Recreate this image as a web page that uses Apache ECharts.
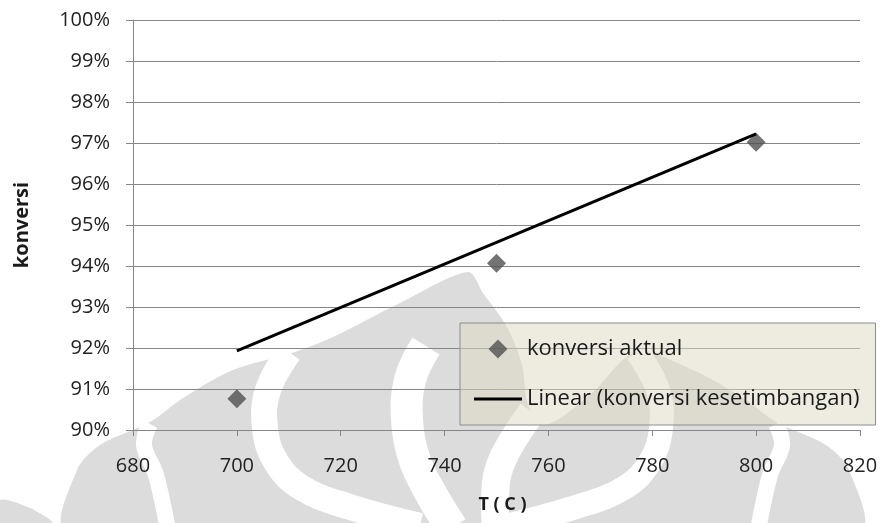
<!DOCTYPE html>
<html>
<head>
<meta charset="utf-8">
<script src="https://cdn.jsdelivr.net/npm/echarts@6/dist/echarts.min.js"></script>
<style>
    html, body { margin: 0; padding: 0; background: #fff; }
    #chart { width: 883px; height: 523px; }
</style>
</head>
<body>
<div id="chart"></div>
<script>
// data
const suhu = [700, 750, 800];
const konversiAktual = [90.76, 94.07, 97.02];
const trenSuhu = [700, 800];
const trenKonversi = [91.93, 97.22];

const FONT = "Open Sans";
const axisGray = "#868686";
const wmGray = "#dcdcdc";

// watermark (faint logo behind the plot), traced by eye
const CX = 463;
const mirror = pts => pts.map(([x, y]) => [2 * CX - x, y]);
const leftOutline = [[400, 303], [333, 337], [292, 353], [233, 370], [183, 398], [150, 422], [100, 445], [77, 470], [67, 530]];
const rightOutline = [[483, 293], [507, 327], [522, 365], [528, 405], [545, 425], [590, 395], [636, 352], [693, 370], [743, 398], [776, 422], [826, 445], [849, 470], [859, 530]];
const band1 = [[150, 424], [144, 445], [155, 472], [162, 500], [168, 530]];
const band2 = [[289, 352], [268, 390], [265, 428], [276, 462], [302, 488], [350, 507], [420, 526]];
const band3 = [[426, 346], [410, 380], [407, 420], [414, 458], [430, 492], [452, 528]];
const band3r = [[532, 412], [510, 445], [498, 472], [495, 500], [496, 528]];

const silhouette = [[468, 272]].concat(rightOutline, leftOutline.slice().reverse());
const whiteBand = (pts, w) => ({
    type: "polyline", z: -20, silent: true,
    shape: { points: pts, smooth: 0.4 },
    style: { fill: null, stroke: "#fff", lineWidth: w },
});

const chart = echarts.init(document.getElementById("chart"));
chart.setOption({
    animation: false,
    textStyle: { fontFamily: FONT },
    graphic: [
        { type: "polygon", z: -30, silent: true, shape: { points: silhouette, smooth: 0.3 }, style: { fill: wmGray } },
        { type: "polygon", z: -30, silent: true, shape: { points: [[0, 500], [30, 508], [52, 523], [0, 523]], smooth: 0.3 }, style: { fill: wmGray } },
        whiteBand(band1, 16), whiteBand(mirror(band1), 16),
        whiteBand(band2, 26), whiteBand(mirror(band2), 24),
        whiteBand(band3, 32), whiteBand(band3r, 28),
    ],
    grid: { left: 133, right: 23, top: 20, bottom: 93 },
    xAxis: {
        type: "value",
        min: 680, max: 820, interval: 20,
        name: "T ( C )",
        nameLocation: "middle",
        nameGap: 66,
        nameTextStyle: { fontSize: 18, fontWeight: "bold", color: "#1a1a1a", padding: [0, 0, 0, 12] },
        axisLine: { lineStyle: { color: axisGray, width: 1 } },
        axisTick: { length: 6, lineStyle: { color: axisGray } },
        axisLabel: { fontSize: 20, color: "#222", margin: 26 },
        splitLine: { show: false },
    },
    yAxis: {
        type: "value",
        min: 90, max: 100, interval: 1,
        name: "konversi",
        nameLocation: "middle",
        nameRotate: 90,
        nameGap: 101,
        nameTextStyle: { fontSize: 20, fontWeight: "bold", color: "#1a1a1a" },
        axisLine: { show: true, lineStyle: { color: axisGray, width: 1 } },
        axisTick: { show: true, length: 7, lineStyle: { color: axisGray } },
        axisLabel: { fontSize: 20, color: "#222", margin: 23, formatter: v => v + "%" },
        splitLine: { lineStyle: { color: axisGray, width: 1 } },
    },
    legend: {
        left: 460, top: 323,
        orient: "vertical",
        padding: [14, 16, 14, 14],
        itemWidth: 48, itemHeight: 19,
        itemGap: 26,
        backgroundColor: "rgba(221,217,195,0.5)",
        borderColor: "#8c8c8c", borderWidth: 1,
        textStyle: { fontSize: 22, lineHeight: 24, color: "#1a1a1a" },
        data: [
            { name: "konversi aktual", icon: "path://M0,-1L1,0L0,1L-1,0Z" },
            { name: "Linear (konversi kesetimbangan)", icon: "path://M0,0H48V3H0Z" },
        ],
    },
    series: [
        {
            name: "konversi aktual",
            type: "scatter",
            symbol: "diamond",
            symbolSize: 19,
            itemStyle: { color: "#505050" },
            data: suhu.map((x, i) => [x, konversiAktual[i]]),
            z: 3,
        },
        {
            name: "Linear (konversi kesetimbangan)",
            type: "line",
            symbol: "none",
            lineStyle: { color: "#000", width: 3 },
            itemStyle: { color: "#000" },
            data: trenSuhu.map((x, i) => [x, trenKonversi[i]]),
            z: 4,
        },
    ],
});
</script>
</body>
</html>
